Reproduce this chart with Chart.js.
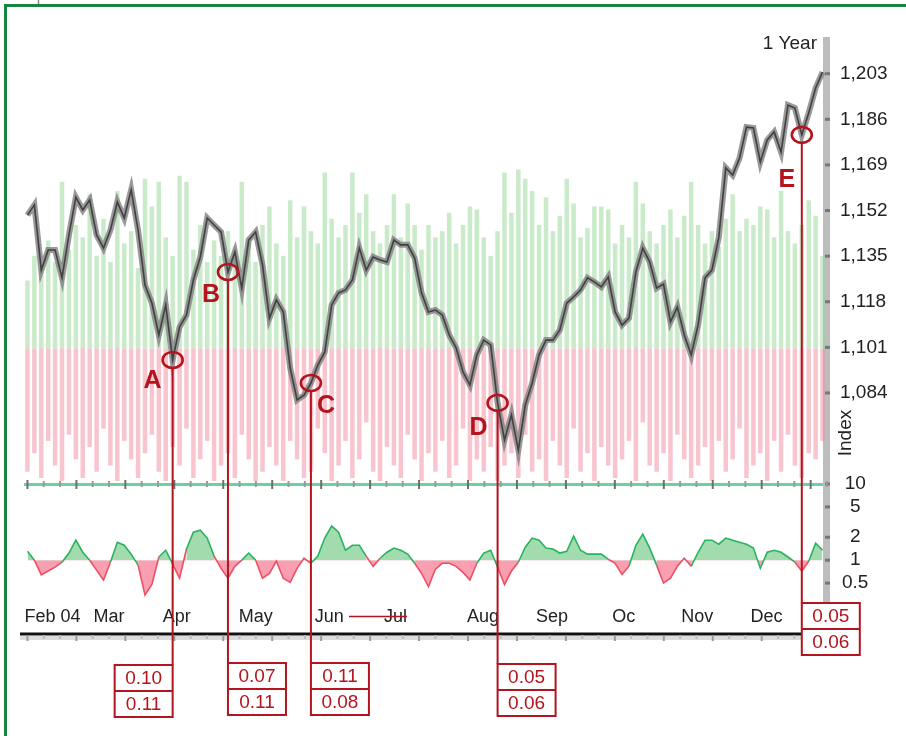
<!DOCTYPE html>
<html>
<head>
<meta charset="utf-8">
<script src="https://cdn.jsdelivr.net/npm/chart.js@4.4.1/dist/chart.umd.min.js"></script>
<style>
  html, body { margin: 0; padding: 0; background: #fff; }
  canvas { display: block; }
</style>
</head>
<body>
<canvas id="chart" width="906" height="736"></canvas>
<script>
// index level, one value per two trading days, Feb 2004 - Dec 2004
const price = [1150.3, 1154.1, 1129.8, 1137.3, 1137.3, 1126.9, 1142.9, 1157.0, 1152.2, 1155.9,
  1142.9, 1138.0, 1144.7, 1155.2, 1149.2, 1159.7, 1144.7, 1124.2, 1117.5, 1105.6,
  1116.8, 1096.3, 1108.6, 1113.1, 1126.1, 1134.7, 1149.2, 1146.6, 1144.0, 1129.1,
  1136.5, 1123.1, 1141.0, 1144.0, 1131.7, 1111.9, 1118.7, 1114.2, 1093.3, 1081.4,
  1083.2, 1087.7, 1094.4, 1099.3, 1116.8, 1121.3, 1122.4, 1126.1, 1138.0, 1129.8,
  1134.7, 1133.6, 1132.8, 1141.0, 1139.2, 1139.2, 1134.3, 1121.3, 1114.2, 1114.9,
  1113.1, 1105.6, 1100.8, 1091.8, 1087.0, 1098.2, 1103.7, 1101.9, 1080.3, 1066.5,
  1075.8, 1062.7, 1079.5, 1087.7, 1098.2, 1103.7, 1103.7, 1107.5, 1117.5, 1119.8,
  1122.4, 1126.9, 1125.4, 1123.5, 1127.2, 1114.2, 1109.3, 1111.9, 1129.1, 1138.0,
  1132.8, 1123.1, 1124.6, 1110.5, 1116.0, 1105.6, 1098.2, 1109.3, 1126.9, 1129.8,
  1142.1, 1167.9, 1165.2, 1171.6, 1183.1, 1182.8, 1170.1, 1178.3, 1181.3, 1173.8,
  1191.3, 1190.2, 1180.2, 1188.4, 1197.7, 1203.6];

// up / down volume (background bars)
const upVolume = [22, 30, 26, 35, 28, 54, 32, 40, 36, 50, 30, 42, 28, 51, 34, 38, 26, 55, 46, 54,
  36, 30, 56, 54, 32, 40, 28, 35, 30, 38, 33, 54, 36, 28, 40, 46, 34, 30, 48, 36,
  46, 38, 34, 57, 42, 36, 40, 57, 44, 50, 38, 34, 40, 50, 36, 47, 40, 32, 40, 36,
  38, 44, 34, 40, 46, 45, 36, 30, 38, 57, 44, 58, 55, 51, 40, 49, 38, 43, 55, 47,
  36, 39, 46, 46, 45, 34, 40, 36, 54, 47, 38, 34, 40, 45, 36, 43, 54, 40, 34, 38,
  33, 42, 50, 38, 42, 40, 46, 45, 36, 51, 38, 34, 40, 48, 43, 30];
const downVolume = [40, 34, 42, 30, 38, 43, 28, 36, 42, 32, 40, 26, 38, 43, 30, 36, 42, 34, 28, 40,
  43, 32, 38, 26, 42, 36, 30, 43, 38, 34, 42, 28, 36, 43, 40, 32, 38, 43, 30, 36,
  42, 40, 26, 34, 43, 38, 30, 42, 36, 24, 40, 43, 32, 38, 42, 28, 36, 43, 34, 40,
  30, 42, 38, 26, 43, 36, 40, 32, 43, 38, 34, 42, 28, 40, 36, 43, 30, 38, 42, 26,
  40, 34, 43, 32, 38, 42, 36, 30, 43, 24, 38, 40, 34, 43, 28, 36, 42, 38, 32, 43,
  30, 40, 36, 26, 42, 38, 34, 43, 30, 40, 28, 38, 42, 34, 36, 30];

// lower panel ratio (log scale)
const ratio = [1.31, 1.0, 0.64, 0.72, 0.81, 0.94, 1.24, 1.83, 1.27, 1.0,
  0.74, 0.55, 0.94, 1.72, 1.57, 1.2, 0.86, 0.35, 0.48, 1.1,
  1.35, 0.89, 0.58, 1.4, 2.33, 2.48, 1.95, 1.13, 0.78, 0.58,
  0.83, 1.0, 1.24, 1.0, 0.58, 0.67, 0.97, 0.58, 0.51, 0.78,
  1.06, 0.91, 1.13, 1.95, 2.8, 2.33, 1.35, 1.57, 1.57, 1.13,
  0.83, 1.06, 1.27, 1.44, 1.35, 1.2, 0.91, 0.67, 0.45, 0.76,
  0.91, 0.91, 0.83, 0.69, 0.55, 0.91, 1.24, 1.35, 0.81, 0.48,
  0.72, 0.94, 1.48, 1.95, 1.83, 1.44, 1.4, 1.24, 1.31, 2.07,
  1.35, 1.2, 1.2, 1.2, 1.03, 0.91, 0.65, 0.83, 1.57, 2.2,
  1.44, 0.86, 0.5, 0.58, 0.83, 1.06, 0.83, 1.27, 1.83, 1.83,
  1.62, 1.95, 1.83, 1.72, 1.62, 1.44, 0.78, 1.27, 1.35, 1.27,
  1.1, 0.94, 0.72, 0.97, 1.67, 1.35];

const monthNames = ['Feb 04', 'Mar', 'Apr', 'May', 'Jun', 'Jul', 'Aug', 'Sep', 'Oc', 'Nov', 'Dec'];
const monthIndex = [0, 10, 20, 31, 42, 52, 64, 74, 85, 95, 105];

const priceTicks = [1084, 1101, 1118, 1135, 1152, 1169, 1186, 1203];
const ratioTicks = [0.5, 1, 2, 5, 10];

// marked points A-E and their boxed values
const annoLabels = ['A', 'B', 'C', 'D', 'E'];
const annoIndex = [21, 29, 41, 68, 112];
const annoTop = ['0.10', '0.07', '0.11', '0.05', '0.05'];
const annoBottom = ['0.11', '0.11', '0.08', '0.06', '0.06'];

const N = price.length;
const labels = new Array(N).fill('');
monthIndex.forEach((idx, k) => { labels[idx] = monthNames[k]; });

const FONT = "'Liberation Sans', Arial, Helvetica, sans-serif";
const RED = '#b3141d';
Chart.defaults.font.family = FONT;

// where letters and boxes sit relative to each marked point
const annoLayout = [
  { dx: -20, dy: 21, side: -1, boxTop: 665 },
  { dx: -17, dy: 23, side: 1, boxTop: 663 },
  { dx: 15, dy: 23, side: 1, boxTop: 663 },
  { dx: -19, dy: 25, side: 1, boxTop: 664 },
  { dx: -15, dy: 45, side: 1, boxTop: 603 }
];

const overlay = {
  id: 'overlay',
  beforeDraw(chart) {
    const c = chart.ctx;
    c.save();
    c.fillStyle = '#fff';
    c.fillRect(0, 0, chart.width, chart.height);
    c.strokeStyle = '#17853f';
    c.lineWidth = 3;
    c.beginPath();
    c.moveTo(5.5, chart.height + 5);
    c.lineTo(5.5, 5.5);
    c.lineTo(chart.width + 5, 5.5);
    c.stroke();
    c.strokeStyle = '#8a8a8a';
    c.lineWidth = 1.5;
    c.beginPath();
    c.moveTo(38.5, 0);
    c.lineTo(38.5, 4);
    c.stroke();
    c.restore();
  },
  afterDraw(chart) {
    const c = chart.ctx;
    const xs = chart.scales.x, ys = chart.scales.y, rs = chart.scales.ratio;
    const area = chart.chartArea;
    c.save();

    // tick marks on the axis band
    c.fillStyle = '#777';
    [ys, rs].forEach(s => s.ticks.forEach(t => {
      const py = s.getPixelForValue(t.value);
      c.fillRect(area.right - 1, py - 1.5, 5, 3);
    }));

    // small week marks on separator and base line
    const sepY = rs.top;
    const baseY = 634;
    c.fillStyle = '#dcdcdc';
    c.fillRect(20, baseY + 2, area.right - 20, 4);
    c.fillStyle = '#111';
    c.fillRect(20, baseY - 1.5, area.right - 20, 3);
    for (let k = 0; k * 2.36 < N; k++) {
      const px = xs.getPixelForValue(k * 2.36);
      const tall = k % 3 === 0;
      c.fillStyle = tall ? '#6f6f6f' : '#9a9a9a';
      c.fillRect(px - 1, sepY - (tall ? 4 : 3), 2, tall ? 9 : 6);
      c.fillStyle = tall ? '#9a9a9a' : '#bbbbbb';
      c.fillRect(px - 1, baseY + 1, 2, tall ? 6 : 4);
    }

    // stray red rule between Jun and Jul
    c.strokeStyle = RED;
    c.lineWidth = 1.5;
    c.beginPath();
    c.moveTo(349, 616.5);
    c.lineTo(407, 616.5);
    c.stroke();

    // axis captions
    c.fillStyle = '#222';
    c.font = '19px ' + FONT;
    c.textAlign = 'right';
    c.textBaseline = 'middle';
    c.fillText('1 Year', 817, 44);
    c.save();
    c.translate(846, 433);
    c.rotate(-Math.PI / 2);
    c.textAlign = 'center';
    c.fillText('Index', 0, 0);
    c.restore();

    // annotations
    annoLabels.forEach((lab, k) => {
      const i = annoIndex[k], L = annoLayout[k];
      const cx = xs.getPixelForValue(i), cy = ys.getPixelForValue(price[i]);
      c.strokeStyle = RED;
      c.lineWidth = 2;
      c.beginPath();
      c.moveTo(cx, cy + 8);
      c.lineTo(cx, L.boxTop);
      c.stroke();
      c.lineWidth = 2.6;
      c.beginPath();
      c.ellipse(cx, cy, 10, 8, 0, 0, Math.PI * 2);
      c.stroke();
      c.fillStyle = RED;
      c.font = 'bold 25px ' + FONT;
      c.textAlign = 'center';
      c.textBaseline = 'middle';
      c.fillText(lab, cx + L.dx, cy + L.dy);

      const bx = L.side < 0 ? cx - 58 : cx;
      c.fillStyle = '#fff';
      c.fillRect(bx, L.boxTop, 58, 52);
      c.lineWidth = 2;
      c.strokeRect(bx, L.boxTop, 58, 52);
      c.beginPath();
      c.moveTo(bx, L.boxTop + 26);
      c.lineTo(bx + 58, L.boxTop + 26);
      c.stroke();
      c.fillStyle = RED;
      c.font = '19px ' + FONT;
      c.fillText(annoTop[k], bx + 29, L.boxTop + 14);
      c.fillText(annoBottom[k], bx + 29, L.boxTop + 40);
    });
    c.restore();
  }
};

new Chart(document.getElementById('chart'), {
  data: {
    labels: labels,
    datasets: [
      {
        type: 'line', label: 'Index', data: price, yAxisID: 'y',
        borderColor: '#404040', borderWidth: 1.6, pointRadius: 0, tension: 0, order: 0
      },
      {
        type: 'line', label: 'Index band', data: price, yAxisID: 'y',
        borderColor: 'rgba(128,128,128,0.8)', borderWidth: 6, pointRadius: 0, tension: 0, order: 1
      },
      {
        type: 'line', label: 'Ratio', data: ratio, yAxisID: 'ratio',
        borderWidth: 1.6, pointRadius: 0, tension: 0, order: 2,
        fill: { target: { value: 1 }, above: 'rgba(100,195,120,0.6)', below: 'rgba(245,95,125,0.6)' },
        segment: {
          borderColor: ctx => ((ctx.p0.parsed.y + ctx.p1.parsed.y) / 2 >= 1 ? '#27b35f' : '#ec5065')
        }
      },
      {
        type: 'bar', label: 'Up volume', data: upVolume, yAxisID: 'vol',
        backgroundColor: 'rgba(150,215,150,0.5)', borderWidth: 0,
        grouped: false, barPercentage: 0.65, categoryPercentage: 1, order: 3
      },
      {
        type: 'bar', label: 'Down volume', data: downVolume.map(v => -v), yAxisID: 'vol',
        backgroundColor: 'rgba(242,140,160,0.5)', borderWidth: 0,
        grouped: false, barPercentage: 0.65, categoryPercentage: 1, order: 3
      }
    ]
  },
  options: {
    responsive: false,
    animation: false,
    layout: { padding: { left: 24, right: 0, top: 40, bottom: 96 } },
    plugins: { legend: { display: false }, tooltip: { enabled: false } },
    scales: {
      x: {
        type: 'category',
        offset: true,
        grid: { display: false, drawTicks: false },
        border: { display: false },
        ticks: {
          autoSkip: false, maxRotation: 0, minRotation: 0, align: 'start',
          padding: 6, labelOffset: -3, color: '#222', font: { size: 18 }
        },
        afterFit: s => { s.height = 40; }
      },
      vol: { type: 'linear', position: 'right', display: false, min: -81.6, max: 100, weight: 0 },
      y: {
        type: 'linear', position: 'right', stack: 'right', stackWeight: 444, weight: 1,
        min: 1050.07, max: 1215.56,
        afterBuildTicks: s => { s.ticks = priceTicks.map(v => ({ value: v })); },
        grid: { display: false, drawTicks: false },
        border: { color: '#bdbdbd', width: 7 },
        ticks: {
          autoSkip: false, padding: 14, crossAlign: 'near', color: '#222', font: { size: 19 },
          callback: v => v.toLocaleString('en-US')
        },
        afterFit: s => { s.width = 80; }
      },
      ratio: {
        type: 'logarithmic', position: 'right', stack: 'right', stackWeight: 116, weight: 2,
        min: 0.3, max: 10,
        afterBuildTicks: s => { s.ticks = ratioTicks.map(v => ({ value: v })); },
        grid: {
          drawTicks: false,
          color: ctx => (ctx.tick && ctx.tick.value === 10 ? '#6ad2a2' : 'rgba(0,0,0,0)'),
          lineWidth: 3
        },
        border: { color: '#bdbdbd', width: 7 },
        ticks: {
          autoSkip: false, padding: 16, crossAlign: 'center', color: '#222', font: { size: 19 },
          callback: v => String(v)
        },
        afterFit: s => { s.width = 80; }
      }
    }
  },
  plugins: [overlay]
});
</script>
</body>
</html>
